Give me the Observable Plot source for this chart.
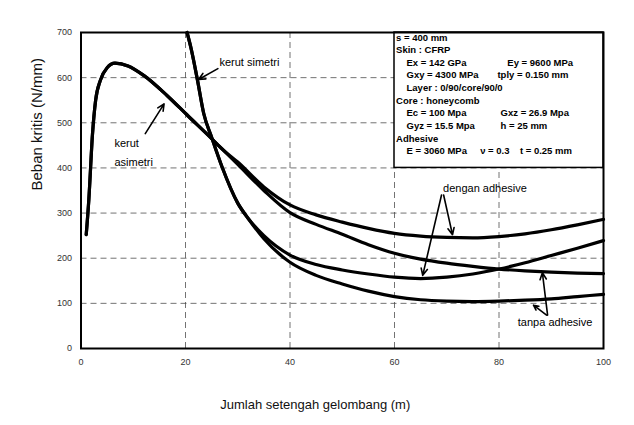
<!DOCTYPE html>
<html>
<head>
<meta charset="utf-8">
<script src="https://cdn.jsdelivr.net/npm/d3@7"></script>
<script src="https://cdn.jsdelivr.net/npm/@observablehq/plot@0.6"></script>
<style>
  body { margin: 0; background: #fff; }
</style>
</head>
<body>
<div id="chart"></div>
<script>
// Critical buckling load vs. number of half-waves for a CFRP/honeycomb sandwich panel

const xTicks = [0, 20, 40, 60, 80, 100];
const yTicks = [0, 100, 200, 300, 400, 500, 600, 700];

// Asymmetric wrinkling: common rising branch and peak
const asimSharedX = [1, 1.5, 2.2, 2.8, 3.7, 5, 6.5, 9, 12, 16.5, 20.5, 25, 27];
const asimSharedY = [252, 330, 475, 550, 594, 622, 632, 626, 605, 560, 515, 465, 442];
// ... with adhesive
const asimDenganX = [30, 35, 40, 45, 50, 55, 60, 65, 70, 75, 80, 85, 90, 95, 100];
const asimDenganY = [413, 358, 318, 296, 280, 266, 255, 249, 246, 245, 248, 254, 263, 274, 286];
// ... without adhesive
const asimTanpaX = [30, 35, 40, 45, 50, 55, 60, 65, 70, 75, 80, 85, 90, 95, 100];
const asimTanpaY = [408, 350, 301, 275, 253, 230, 211, 198, 189, 182, 176, 172, 169, 167, 166];

// Symmetric wrinkling: common steep branch
const simSharedX = [20.3, 21, 22.3, 23.5, 25, 27, 30, 32];
const simSharedY = [700, 668, 594, 520, 468, 402, 322, 288];
// ... with adhesive
const simDenganX = [35, 40, 45, 50, 55, 60, 65, 70, 75, 80, 85, 90, 95, 100];
const simDenganY = [250, 207, 186, 174, 165, 158, 155, 158, 165, 176, 190, 206, 222, 239];
// ... without adhesive
const simTanpaX = [35, 40, 45, 50, 55, 60, 65, 70, 75, 80, 85, 90, 95, 100];
const simTanpaY = [243, 191, 162, 143, 127, 115, 108, 105, 104, 105, 107, 110, 115, 120];

// Material properties listed in the box (left column, right columns)
const infoLeft = [
  "s = 400 mm",
  "Skin : CFRP",
  "Ex = 142 GPa",
  "Gxy = 4300 MPa",
  "Layer : 0/90/core/90/0",
  "Core : honeycomb",
  "Ec = 100 Mpa",
  "Gyz = 15.5 Mpa",
  "Adhesive",
  "E = 3060 MPa"
];
const infoIndent = [false, false, true, true, true, false, true, true, false, true];
const infoRight = [
  {row: 2, text: "Ey = 9600 MPa", col: 81.6},
  {row: 3, text: "tply = 0.150 mm", col: 79.7},
  {row: 6, text: "Gxz = 26.9 Mpa", col: 80.3},
  {row: 7, text: "h = 25 mm", col: 80.3},
  {row: 9, text: "\u03bd = 0.3", col: 76.4},
  {row: 9, text: "t = 0.25 mm", col: 84.0}
];

// Callouts and their leader arrows
const labels = [
  {text: "kerut simetri", x: 26.5, y: 634},
  {text: "kerut", x: 6.4, y: 455},
  {text: "asimetri", x: 6.4, y: 413},
  {text: "dengan adhesive", x: 69.3, y: 354},
  {text: "tanpa adhesive", x: 83.6, y: 58}
];
const arrows = [
  {x1: 26.2, y1: 620, x2: 22.5, y2: 596},
  {x1: 12.3, y1: 476, x2: 15.9, y2: 542},
  {x1: 69.0, y1: 340, x2: 65.4, y2: 162},
  {x1: 69.4, y1: 340, x2: 71.1, y2: 252},
  {x1: 89.3, y1: 74, x2: 88.3, y2: 168},
  {x1: 89.1, y1: 74, x2: 86.6, y2: 96}
];

function build(name, xs, ys) {
  return xs.map((x, i) => ({series: name, x, y: ys[i]}));
}
const rows = [
  ...build("asimetri dengan", [...asimSharedX, ...asimDenganX], [...asimSharedY, ...asimDenganY]),
  ...build("asimetri tanpa", [...asimSharedX, ...asimTanpaX], [...asimSharedY, ...asimTanpaY]),
  ...build("simetri dengan", [...simSharedX, ...simDenganX], [...simSharedY, ...simDenganY]),
  ...build("simetri tanpa", [...simSharedX, ...simTanpaX], [...simSharedY, ...simTanpaY])
];

// Info box occupies the upper-right grid cell; rows stacked from its top
const rowY = i => 689 - 28 * i;
const leftRows = infoLeft.map((t, i) => ({text: t, x: infoIndent[i] ? 62.3 : 60.3, y: rowY(i)}));
const rightRows = infoRight.map(d => ({text: d.text, x: d.col, y: rowY(d.row)}));

const font = "'Liberation Sans', Arial, sans-serif";

const chart = Plot.plot({
  width: 634,
  height: 425,
  marginLeft: 80.5,
  marginRight: 31,
  marginTop: 32,
  marginBottom: 77,
  style: {fontFamily: font, background: "#fff", overflow: "visible"},
  x: {domain: [0, 100]},
  y: {domain: [0, 700]},
  marks: [
    Plot.gridY([100, 200, 300, 400, 500, 600], {stroke: "#444", strokeOpacity: 0.75, strokeDasharray: "6,4", strokeWidth: 1}),
    Plot.gridX([20, 40, 60, 80], {stroke: "#444", strokeOpacity: 0.75, strokeDasharray: "6,4", strokeWidth: 1}),
    Plot.axisX({ticks: xTicks, tickSize: 0, tickPadding: 10, fontSize: 9, fill: "#333", label: null}),
    Plot.axisY({ticks: yTicks, tickSize: 0, tickPadding: 9, fontSize: 9, fill: "#333", label: null}),
    Plot.line(rows, {x: "x", y: "y", z: "series", stroke: "#000", strokeWidth: 3.2, curve: "monotone-x"}),
    Plot.rect([{x1: 60, x2: 100, y1: 400, y2: 700}], {x1: "x1", x2: "x2", y1: "y1", y2: "y2", fill: "#fff", stroke: "#000", strokeWidth: 1.5}),
    Plot.text(leftRows, {x: "x", y: "y", text: "text", textAnchor: "start", fontSize: 9.5, fontWeight: "bold", fill: "#000"}),
    Plot.text(rightRows, {x: "x", y: "y", text: "text", textAnchor: "start", fontSize: 9.5, fontWeight: "bold", fill: "#000"}),
    Plot.arrow(arrows, {x1: "x1", y1: "y1", x2: "x2", y2: "y2", stroke: "#000", strokeWidth: 1.6, headLength: 7, headAngle: 50}),
    Plot.text(labels, {x: "x", y: "y", text: "text", textAnchor: "start", fontSize: 11, fill: "#000"}),
    Plot.frame({stroke: "#000", strokeWidth: 2}),
    Plot.text(["Jumlah setengah gelombang (m)"], {frameAnchor: "bottom", text: d => d, dx: -27, dy: 60, fontSize: 13, fill: "#111"}),
    Plot.text(["Beban kritis (N/mm)"], {frameAnchor: "left", text: d => d, dx: -44, rotate: -90, fontSize: 15, fill: "#111"})
  ]
});

document.getElementById("chart").appendChild(chart);
</script>
</body>
</html>
